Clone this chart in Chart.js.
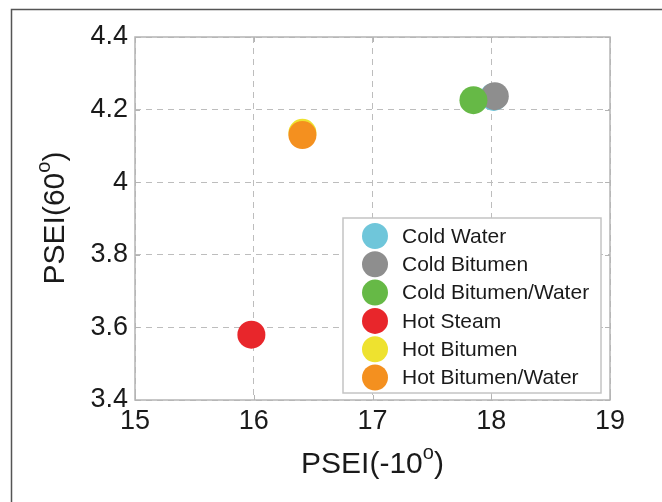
<!DOCTYPE html>
<html>
<head>
<meta charset="utf-8">
<script src="https://cdn.jsdelivr.net/npm/chart.js@4.4.0/dist/chart.umd.min.js"></script>
<style>
  html, body { margin: 0; padding: 0; background: #fff; }
  canvas { display: block; }
</style>
</head>
<body>
<canvas id="psei" width="662" height="502"></canvas>
<script>
// data
const categories = ['Cold Water', 'Cold Bitumen', 'Cold Bitumen/Water', 'Hot Steam', 'Hot Bitumen', 'Hot Bitumen/Water'];
const xValues = [18.02, 18.03, 17.85, 15.98, 16.41, 16.41];
const yValues = [4.235, 4.237, 4.226, 3.58, 4.136, 4.13];
const colors = ['#6fc6da', '#8e8e8e', '#66b946', '#e8262b', '#eee22f', '#f4901f'];
const xTicks = [15, 16, 17, 18, 19];
const yTicks = [3.4, 3.6, 3.8, 4, 4.2, 4.4];
const xTitle = ['PSEI(-10', 'o', ')'];
const yTitle = ['PSEI(60', 'o', ')'];

const FONT = "'Liberation Sans', Arial, sans-serif";

function drawSupText(ctx, parts, size) {
  // base text + superscript + closing, centred on 0,0
  ctx.font = size + 'px ' + FONT;
  const w0 = ctx.measureText(parts[0]).width;
  const w2 = ctx.measureText(parts[2]).width;
  ctx.font = Math.round(size * 0.65) + 'px ' + FONT;
  const w1 = ctx.measureText(parts[1]).width;
  let x = -(w0 + w1 + w2) / 2;
  ctx.textAlign = 'left';
  ctx.textBaseline = 'middle';
  ctx.font = size + 'px ' + FONT;
  ctx.fillText(parts[0], x, 0);
  x += w0;
  ctx.font = Math.round(size * 0.65) + 'px ' + FONT;
  ctx.fillText(parts[1], x, -size * 0.38);
  x += w1;
  ctx.font = size + 'px ' + FONT;
  ctx.fillText(parts[2], x, 0);
}

const framePlugin = {
  id: 'frame',
  beforeDraw(chart) {
    const ctx = chart.ctx;
    ctx.save();
    ctx.strokeStyle = '#555';
    ctx.lineWidth = 1.5;
    ctx.beginPath();
    ctx.moveTo(11.5, 502);
    ctx.lineTo(11.5, 9.5);
    ctx.lineTo(662, 9.5);
    ctx.stroke();
    ctx.restore();
  },
  afterDatasetsDraw(chart) {
    const ctx = chart.ctx;
    const a = chart.chartArea;
    const xs = chart.scales.x, ys = chart.scales.y;
    ctx.save();
    // axes box
    ctx.strokeStyle = '#b4b4b4';
    ctx.lineWidth = 1.5;
    ctx.strokeRect(a.left, a.top, a.right - a.left, a.bottom - a.top);
    // small inward ticks
    ctx.lineWidth = 1;
    ctx.beginPath();
    xTicks.forEach(v => {
      const px = Math.round(xs.getPixelForValue(v)) + 0.5;
      ctx.moveTo(px, a.bottom); ctx.lineTo(px, a.bottom - 5);
      ctx.moveTo(px, a.top); ctx.lineTo(px, a.top + 5);
    });
    yTicks.forEach(v => {
      const py = Math.round(ys.getPixelForValue(v)) + 0.5;
      ctx.moveTo(a.left, py); ctx.lineTo(a.left + 5, py);
      ctx.moveTo(a.right, py); ctx.lineTo(a.right - 5, py);
    });
    ctx.stroke();

    // legend box inside the plot, bottom right
    const bx = a.right - 267, by = a.bottom - 182, bw = 258, bh = 175;
    ctx.fillStyle = '#fff';
    ctx.fillRect(bx, by, bw, bh);
    ctx.strokeStyle = '#c4c4c4';
    ctx.lineWidth = 1.5;
    ctx.strokeRect(bx, by, bw, bh);
    ctx.font = '21px ' + FONT;
    ctx.textBaseline = 'middle';
    ctx.textAlign = 'left';
    chart.data.datasets.forEach((ds, i) => {
      const cy = by + 18 + i * 28.3;
      ctx.fillStyle = ds.backgroundColor;
      ctx.beginPath();
      ctx.arc(bx + 32, cy, 13, 0, Math.PI * 2);
      ctx.fill();
      ctx.fillStyle = '#1a1a1a';
      ctx.fillText(ds.label, bx + 59, cy + 1);
    });

    // axis titles
    ctx.fillStyle = '#1a1a1a';
    ctx.save();
    ctx.translate((a.left + a.right) / 2, 465);
    drawSupText(ctx, xTitle, 30);
    ctx.restore();
    ctx.save();
    ctx.translate(56, 218);
    ctx.rotate(-Math.PI / 2);
    drawSupText(ctx, yTitle, 30);
    ctx.restore();
    ctx.restore();
  }
};

const datasets = categories.map((name, i) => ({
  label: name,
  data: [{ x: xValues[i], y: yValues[i] }],
  backgroundColor: colors[i],
  borderWidth: 0,
  pointRadius: 14,
  pointHoverRadius: 14,
  order: categories.length - i
}));

const tickFont = { family: FONT, size: 27 };

new Chart(document.getElementById('psei').getContext('2d'), {
  type: 'scatter',
  data: { datasets: datasets },
  options: {
    responsive: false,
    animation: false,
    layout: { padding: { left: 0, top: 37, right: 52, bottom: 0 } },
    plugins: { legend: { display: false }, tooltip: { enabled: false } },
    scales: {
      x: {
        min: 15, max: 19,
        afterBuildTicks: s => { s.ticks = xTicks.map(v => ({ value: v })); },
        afterFit: s => { s.height = 102; },
        ticks: { font: tickFont, color: '#1a1a1a', padding: 5, maxRotation: 0,
                 callback: v => String(v) },
        grid: { color: '#bdbdbd', drawTicks: false, lineWidth: 1 },
        border: { display: false, dash: [6, 5] }
      },
      y: {
        min: 3.4, max: 4.4,
        afterBuildTicks: s => { s.ticks = yTicks.map(v => ({ value: v })); },
        afterFit: s => { s.width = 135; },
        ticks: { font: tickFont, color: '#1a1a1a', padding: 7,
                 callback: v => String(+v.toFixed(1)) },
        grid: { color: '#bdbdbd', drawTicks: false, lineWidth: 1 },
        border: { display: false, dash: [6, 5] }
      }
    }
  },
  plugins: [framePlugin]
});
</script>
</body>
</html>
